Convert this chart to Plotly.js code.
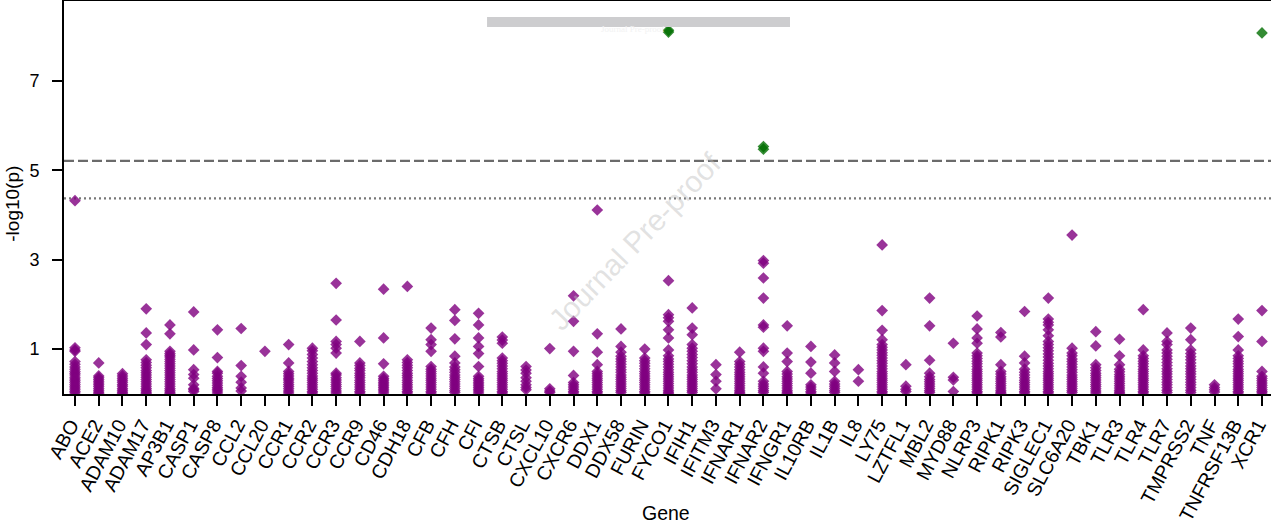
<!DOCTYPE html>
<html>
<head>
<meta charset="utf-8">
<script src="https://cdn.plot.ly/plotly-3.0.1.min.js"></script>
<style>html,body{margin:0;padding:0;background:#fff;}#chart{width:1271px;height:524px;}</style>
</head>
<body>
<div id="chart"></div>
<script>
const genes = ["ABO","ACE2","ADAM10","ADAM17","AP3B1","CASP1","CASP8","CCL2","CCL20","CCR1","CCR2","CCR3","CCR9","CD46","CDH18","CFB","CFH","CFI","CTSB","CTSL","CXCL10","CXCR6","DDX1","DDX58","FURIN","FYCO1","IFIH1","IFITM3","IFNAR1","IFNAR2","IFNGR1","IL10RB","IL1B","IL8","LY75","LZTFL1","MBL2","MYD88","NLRP3","RIPK1","RIPK3","SIGLEC1","SLC6A20","TBK1","TLR3","TLR4","TLR7","TMPRSS2","TNF","TNFRSF13B","XCR1"];

// -log10(p) values of the non-significant SNPs, one list per gene (same order as genes)
const geneValues = [
  [4.32,1.03,0.98,0.95,0.72,0.66,0.6,0.55,0.5,0.46,0.42,0.37,0.33,0.29,0.25,0.21,0.17,0.13,0.09,0.05,0.02],
  [0.69,0.4,0.36,0.32,0.28,0.24,0.2,0.16,0.12,0.08,0.04,0.01],
  [0.45,0.4,0.35,0.3,0.26,0.21,0.17,0.12,0.08,0.04,0.01],
  [1.9,1.36,1.1,0.76,0.7,0.64,0.58,0.52,0.47,0.42,0.37,0.32,0.27,0.22,0.17,0.12,0.08,0.04,0.01],
  [1.54,1.34,0.95,0.9,0.86,0.82,0.77,0.72,0.67,0.62,0.57,0.52,0.47,0.42,0.37,0.32,0.27,0.22,0.17,0.12,0.08,0.04,0.01],
  [1.83,0.98,0.54,0.43,0.35,0.2,0.12,0.09,0.05],
  [1.43,0.81,0.5,0.46,0.39,0.34,0.29,0.24,0.19,0.14,0.1,0.06,0.02],
  [1.46,0.63,0.39,0.26,0.13,0.06],
  [0.95],
  [1.1,0.69,0.5,0.45,0.4,0.35,0.31,0.26,0.21,0.16,0.11,0.06,0.02],
  [1.02,0.96,0.88,0.8,0.72,0.65,0.58,0.52,0.46,0.4,0.35,0.3,0.25,0.2,0.15,0.1,0.05,0.02],
  [2.47,1.65,1.17,1.1,1.02,0.91,0.46,0.42,0.36,0.31,0.26,0.21,0.16,0.11,0.06,0.02],
  [1.17,0.69,0.63,0.57,0.52,0.46,0.41,0.36,0.3,0.25,0.2,0.15,0.1,0.05,0.02],
  [2.34,1.25,0.67,0.39,0.34,0.3,0.26,0.22,0.18,0.14,0.1,0.06,0.02],
  [2.4,0.76,0.7,0.64,0.58,0.52,0.46,0.41,0.36,0.3,0.25,0.2,0.15,0.1,0.05,0.02],
  [1.47,1.21,1.1,0.95,0.61,0.55,0.5,0.45,0.4,0.35,0.3,0.25,0.2,0.15,0.1,0.05,0.02],
  [1.88,1.64,1.23,0.84,0.69,0.6,0.54,0.48,0.42,0.37,0.32,0.27,0.22,0.17,0.12,0.07,0.03],
  [1.8,1.54,1.25,1.06,0.9,0.61,0.39,0.34,0.3,0.26,0.22,0.18,0.14,0.1,0.06,0.02],
  [1.27,1.2,1.13,0.8,0.74,0.68,0.62,0.56,0.5,0.45,0.4,0.35,0.3,0.25,0.2,0.15,0.1,0.05,0.02],
  [0.61,0.53,0.46,0.36,0.28,0.2,0.14,0.09],
  [1.01,0.11,0.06,0.03],
  [2.19,1.62,0.95,0.41,0.25,0.2,0.15,0.1,0.05,0.02],
  [4.11,1.34,0.93,0.65,0.5,0.45,0.4,0.35,0.3,0.25,0.2,0.15,0.1,0.05,0.02],
  [1.45,1.06,0.93,0.84,0.78,0.72,0.66,0.6,0.54,0.48,0.42,0.37,0.32,0.27,0.22,0.17,0.12,0.07,0.03],
  [1.0,0.8,0.74,0.68,0.62,0.56,0.5,0.45,0.4,0.35,0.3,0.25,0.2,0.15,0.1,0.05,0.02],
  [2.53,1.77,1.7,1.62,1.43,1.25,0.98,0.85,0.78,0.72,0.66,0.6,0.54,0.48,0.43,0.38,0.33,0.28,0.23,0.18,0.13,0.08,0.04,0.01],
  [1.92,1.47,1.32,1.1,1.02,0.95,0.88,0.81,0.74,0.67,0.6,0.54,0.48,0.42,0.37,0.32,0.27,0.22,0.17,0.12,0.07,0.03],
  [0.65,0.43,0.28,0.11],
  [0.93,0.72,0.66,0.6,0.54,0.48,0.43,0.38,0.33,0.28,0.23,0.18,0.13,0.08,0.04,0.01],
  [2.98,2.92,2.59,2.14,1.54,1.49,1.02,0.95,0.6,0.46,0.28,0.22,0.17,0.12,0.07,0.03],
  [1.52,0.91,0.72,0.5,0.44,0.38,0.33,0.28,0.23,0.18,0.13,0.08,0.04,0.01],
  [1.06,0.71,0.46,0.2,0.15,0.1,0.05,0.02],
  [0.87,0.69,0.5,0.28,0.22,0.17,0.12,0.07,0.03],
  [0.54,0.28],
  [3.33,1.86,1.42,1.21,1.1,1.04,0.98,0.92,0.86,0.8,0.74,0.68,0.62,0.56,0.5,0.45,0.4,0.35,0.3,0.25,0.2,0.15,0.1,0.05,0.02],
  [0.65,0.17,0.1,0.05],
  [2.14,1.52,0.75,0.46,0.38,0.32,0.27,0.22,0.17,0.12,0.07,0.03],
  [1.13,0.37,0.31,0.05],
  [1.74,1.45,1.25,1.13,0.91,0.85,0.79,0.73,0.67,0.61,0.55,0.5,0.45,0.4,0.35,0.3,0.25,0.2,0.15,0.1,0.05,0.02],
  [1.37,1.27,0.65,0.5,0.44,0.38,0.33,0.28,0.23,0.18,0.13,0.08,0.04,0.01],
  [1.84,0.84,0.69,0.55,0.48,0.42,0.36,0.3,0.25,0.2,0.15,0.1,0.05,0.02],
  [2.14,1.67,1.6,1.54,1.43,1.3,1.17,1.1,1.03,0.96,0.89,0.82,0.75,0.68,0.62,0.56,0.5,0.45,0.4,0.35,0.3,0.25,0.2,0.15,0.1,0.05,0.02],
  [3.55,1.02,0.91,0.85,0.78,0.72,0.66,0.6,0.54,0.48,0.42,0.37,0.32,0.27,0.22,0.17,0.12,0.07,0.03],
  [1.39,1.07,0.65,0.58,0.52,0.46,0.41,0.36,0.31,0.26,0.21,0.16,0.11,0.06,0.02],
  [1.22,0.85,0.65,0.55,0.49,0.43,0.38,0.33,0.28,0.23,0.18,0.13,0.08,0.04,0.01],
  [1.88,0.98,0.85,0.79,0.73,0.67,0.61,0.55,0.5,0.45,0.4,0.35,0.3,0.25,0.2,0.15,0.1,0.05,0.02],
  [1.36,1.17,1.1,0.98,0.91,0.84,0.77,0.7,0.63,0.56,0.5,0.44,0.38,0.32,0.26,0.2,0.14,0.08,0.03],
  [1.47,1.21,0.98,0.9,0.83,0.76,0.69,0.62,0.56,0.5,0.44,0.38,0.32,0.26,0.2,0.14,0.08,0.03],
  [0.2,0.14,0.09,0.04],
  [1.67,1.28,0.98,0.85,0.79,0.73,0.67,0.61,0.55,0.5,0.45,0.4,0.35,0.3,0.25,0.2,0.15,0.1,0.05,0.02],
  [1.86,1.17,0.5,0.39,0.34,0.29,0.24,0.19,0.14,0.09,0.05,0.02]
];

// genome-wide significant SNPs (green)
const sigGenes  = ["FYCO1","FYCO1","IFNAR2","IFNAR2","XCR1"];
const sigValues = [8.13, 8.09, 5.53, 5.47, 8.07];

// threshold lines
const genomeWideThreshold = 5.21;
const suggestiveThreshold = 4.37;

const yTicks = [1, 3, 5, 7];

const px = [], py = [];
genes.forEach((g, i) => geneValues[i].forEach(v => { px.push(g); py.push(v); }));

const FONT = '"Liberation Sans", Arial, sans-serif';

const traces = [
  {type:'scatter', mode:'markers', x:px, y:py, cliponaxis:true,
   marker:{symbol:'diamond', size:9, color:'rgba(128,0,128,0.8)', line:{width:0}},
   hoverinfo:'skip', showlegend:false},
  {type:'scatter', mode:'markers', x:sigGenes, y:sigValues, cliponaxis:true,
   marker:{symbol:'diamond', size:9, color:'rgba(0,110,0,0.8)', line:{width:0}},
   hoverinfo:'skip', showlegend:false}
];

const layout = {
  width:1271, height:524,
  margin:{l:64, r:0, t:1, b:130, pad:0},
  paper_bgcolor:'#fff', plot_bgcolor:'#fff',
  font:{family:FONT, size:18, color:'#000'},
  showlegend:false,
  xaxis:{type:'category', categoryorder:'array', categoryarray:genes,
    range:[-0.463, 50.38], showgrid:false, zeroline:false,
    showline:true, linecolor:'#000', linewidth:2, mirror:true,
    ticks:'outside', ticklen:10, tickwidth:2, tickcolor:'#000',
    tickangle:-62, ticklabelshift:-4, tickfont:{family:FONT, size:19.5, color:'#000'}, automargin:false},
  yaxis:{range:[-0.005, 8.785], tickvals:yTicks, ticktext:yTicks.map(String),
    showgrid:false, zeroline:false,
    showline:true, linecolor:'#000', linewidth:2, mirror:false,
    ticks:'outside', ticklen:10, tickwidth:2, tickcolor:'#000',
    tickfont:{family:FONT, size:18, color:'#000'}, ticklabelstandoff:9, automargin:false},
  shapes:[
    {type:'line', xref:'paper', x0:0, x1:1, yref:'y', y0:genomeWideThreshold, y1:genomeWideThreshold,
     line:{color:'#6b6b6b', width:2.2, dash:'10px,4px'}, layer:'below'},
    {type:'line', xref:'paper', x0:0, x1:1, yref:'y', y0:suggestiveThreshold, y1:suggestiveThreshold,
     line:{color:'#777', width:2.2, dash:'2px,3px'}, layer:'below'},
    {type:'rect', xref:'paper', yref:'paper', x0:0.3505, x1:0.6015, y0:0.9339, y1:0.9593,
     fillcolor:'#cdcdcf', line:{width:0}, layer:'above'}
  ],
  annotations:[
    {text:'Journal Pre-proof', xref:'paper', yref:'paper', x:0.4714, y:0.9466,
     showarrow:false, font:{family:'"Liberation Serif", "DejaVu Serif", serif', size:9, color:'#f2f2f2'}},
    {text:'Journal Pre-proof', xref:'paper', yref:'paper', x:0.473, y:0.387,
     showarrow:false, textangle:-46, font:{family:FONT, size:30, color:'rgba(190,190,190,0.45)'}},
    {text:'-log10(p)', xref:'paper', yref:'paper', x:-0.0423, y:0.484, xanchor:'center', yanchor:'middle',
     showarrow:false, textangle:-90, font:{family:FONT, size:19, color:'#000'}},
    {text:'Gene', xref:'paper', yref:'paper', x:0.4988, y:-0.302, xanchor:'center', yanchor:'middle',
     showarrow:false, font:{family:FONT, size:19.5, color:'#000'}}
  ]
};

Plotly.newPlot('chart', traces, layout, {staticPlot:true, displayModeBar:false});
</script>
</body>
</html>
